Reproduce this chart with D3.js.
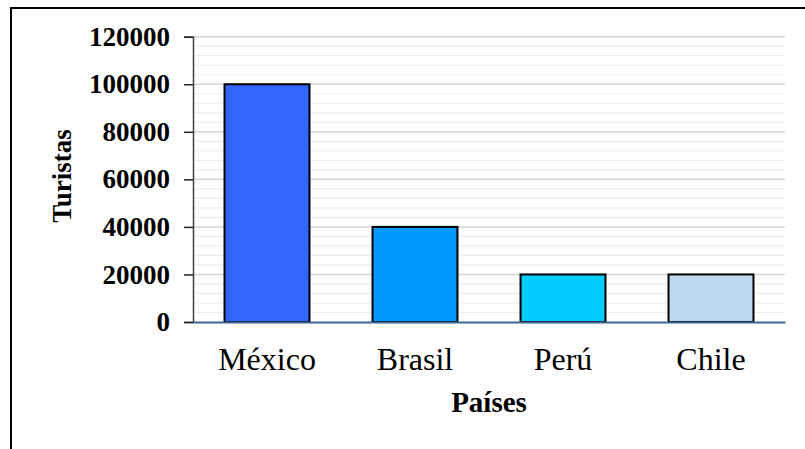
<!DOCTYPE html>
<html>
<head>
<meta charset="utf-8">
<script src="https://d3js.org/d3.v7.min.js"></script>
<style>
  body { margin: 0; background: #fff; }
  svg { display: block; }
</style>
</head>
<body>
<script>
(function() {

    var width = 805,
        height = 449;

    // data
    var paises = ["México", "Brasil", "Perú", "Chile"];
    var turistas = [100000, 40000, 20000, 20000];
    var colores = ["#3366FF", "#0099FF", "#00CCFF", "#BDD7EE"];
    var yTicks = [0, 20000, 40000, 60000, 80000, 100000, 120000];

    var svg = d3.select("body")
        .append("svg")
        .attr("width", width)
        .attr("height", height);

    // outer frame, only top and left edges show
    svg.append("path")
        .attr("d", "M11,449V8H805")
        .attr("fill", "none")
        .attr("stroke", "#000")
        .attr("stroke-width", 2);

    var plot = { left: 193, right: 785, top: 36.7, bottom: 322 };

    var x = d3.scaleBand()
        .domain(paises)
        .range([plot.left, plot.right])
        .paddingInner(0.426)
        .paddingOuter(0.213);

    var y = d3.scaleLinear()
        .domain([0, 120000])
        .range([plot.bottom, plot.top]);

    var graph = svg.append("g");

    // minor gridlines every 4000
    graph.selectAll(".minor")
        .data(d3.range(4000, 120001, 4000).filter(function(d) { return d % 20000 !== 0; }))
        .enter().append("line")
        .attr("class", "minor")
        .attr("x1", plot.left)
        .attr("x2", plot.right)
        .attr("y1", function(d) { return y(d); })
        .attr("y2", function(d) { return y(d); })
        .attr("stroke", "#ececec")
        .attr("stroke-width", 1.2);

    // major gridlines
    graph.selectAll(".major")
        .data(yTicks.slice(1))
        .enter().append("line")
        .attr("class", "major")
        .attr("x1", plot.left)
        .attr("x2", plot.right)
        .attr("y1", function(d) { return y(d); })
        .attr("y2", function(d) { return y(d); })
        .attr("stroke", "#d6d6d6")
        .attr("stroke-width", 1.5);

    // bars
    graph.selectAll(".bar")
        .data(turistas)
        .enter().append("rect")
        .attr("class", "bar")
        .attr("x", function(d, i) { return x(paises[i]); })
        .attr("width", x.bandwidth())
        .attr("y", function(d) { return y(d); })
        .attr("height", function(d) { return y(0) - y(d); })
        .attr("fill", function(d, i) { return colores[i]; })
        .attr("stroke", "#000")
        .attr("stroke-width", 2);

    // y axis
    var yAxis = d3.axisLeft(y)
        .tickValues(yTicks)
        .tickSize(9)
        .tickPadding(14)
        .tickFormat(d3.format("d"));

    var gy = svg.append("g")
        .attr("transform", "translate(" + plot.left + ",0)")
        .call(yAxis);
    gy.select(".domain").attr("stroke", "#404040").attr("stroke-width", 1.5);
    gy.selectAll(".tick line").attr("stroke", "#222").attr("stroke-width", 1.5);
    gy.selectAll(".tick text")
        .attr("fill", "#000")
        .style("font-family", "'Liberation Serif', 'Times New Roman', serif")
        .style("font-weight", "bold")
        .style("font-size", "27px");

    // x axis
    var gx = svg.append("g")
        .attr("transform", "translate(0," + plot.bottom + ")")
        .call(d3.axisBottom(x).tickSize(0).tickPadding(0));
    gx.select(".domain").attr("stroke", "#3a6592").attr("stroke-width", 2);
    gx.selectAll(".tick text")
        .attr("y", 48)
        .attr("dy", 0)
        .attr("fill", "#000")
        .style("font-family", "'Liberation Serif', 'Times New Roman', serif")
        .style("font-size", "32px");

    // axis titles
    svg.append("text")
        .attr("x", (plot.left + plot.right) / 2)
        .attr("y", 412)
        .attr("text-anchor", "middle")
        .style("font-family", "'Liberation Serif', 'Times New Roman', serif")
        .style("font-weight", "bold")
        .style("font-size", "29px")
        .text("Países");

    svg.append("text")
        .attr("transform", "translate(71,176) rotate(-90)")
        .attr("text-anchor", "middle")
        .style("font-family", "'Liberation Serif', 'Times New Roman', serif")
        .style("font-weight", "bold")
        .style("font-size", "27px")
        .text("Turistas");

})();
</script>
</body>
</html>
